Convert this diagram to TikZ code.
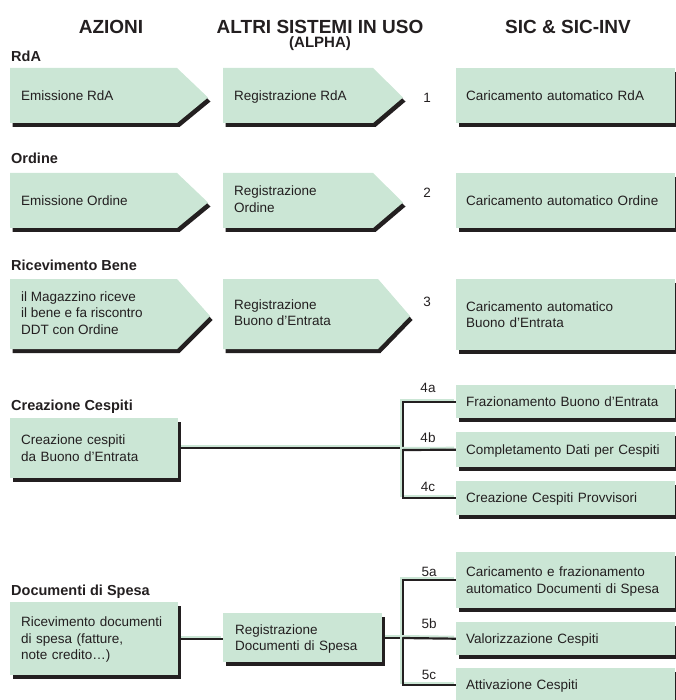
\documentclass[tikz,border=0pt]{standalone}
\usepackage{fontspec}
\setmainfont{Liberation Sans}
\usetikzlibrary{shadows}
\definecolor{mint}{RGB}{203,230,213}
\definecolor{ink}{RGB}{35,31,32}
\newcommand{\vstrut}{\rule[-2.4pt]{0pt}{14.4pt}}
\pgfdeclarelayer{bg}
\pgfsetlayers{bg,main}
\tikzset{
  boxshadow/.style={drop shadow={shadow xshift=2.5pt,shadow yshift=-4pt,fill=ink,opacity=1}},
  txt/.style={font=\fontsize{13.5}{16.5}\selectfont,text=ink,align=left,inner sep=0pt,
    execute at begin node=\vstrut,execute at end node=\vstrut},
  box/.style={txt,fill=mint,boxshadow,anchor=north west,inner ysep=0pt},
  leftbox/.style={box,inner xsep=11pt,text width=146pt},
  sicbox/.style={box,inner xsep=10pt,text width=199pt},
  sec/.style={font=\fontsize{14.5}{17}\selectfont\bfseries,text=ink,anchor=west,inner sep=0pt},
  head/.style={font=\fontsize{19}{22}\selectfont\bfseries,text=ink,inner sep=0pt},
  link/.style={draw=ink,line width=2.2pt,
    preaction={draw=mint,line width=2pt,transform canvas={shift={(-2pt,2pt)}}}}
}
\begin{document}
\begin{tikzpicture}[x=1pt,y=-1pt]
  \useasboundingbox (0,0) rectangle (675,700);
  % column headings
  \node[head] (hAz) at (111,27) {AZIONI};
  \node[head] (hAlt) at (320,27) {ALTRI SISTEMI IN USO};
  \node[head,font=\fontsize{15}{18}\selectfont\bfseries] (hAlpha) at (320,44) {(ALPHA)};
  \node[head] (hSic) at (568,27) {SIC \& SIC-INV};
  % section titles
  \node[sec] (sRda) at (11,56) {RdA};
  \node[sec] (sOrd) at (11,158) {Ordine};
  \node[sec] (sRic) at (11,265) {Ricevimento Bene};
  \node[sec] (sCesp) at (11,407) {Creazione Cespiti};
  \node[sec] (sDoc) at (11,592) {Documenti di Spesa};
  % arrow-shaped steps
  \foreach \x/\y/\w/\h/\d/\n/\t in {10/68/198/55/31/emRda/{Emissione RdA},
      223/68/180/55/30/regRda/{Registrazione RdA},
      10/173/198/55/31/emOrd/{Emissione Ordine},
      223/173/180/55/30/regOrd/{Registrazione\\Ordine},
      10/279/200/70/33/magRic/{il Magazzino riceve\\il bene e fa riscontro\\DDT con Ordine},
      223/279/187/70/32/regBuono/{Registrazione\\Buono d’Entrata}}{
    \fill[mint,boxshadow] (\x,\y) -- (\x+\w-\d,\y) -- (\x+\w,\y+\h/2+2)
      -- (\x+\w-\d,\y+\h) -- (\x,\y+\h) -- cycle;
    \node[txt,anchor=west] (\n) at (\x+11,\y+\h/2) {\t};
  }
  % SIC boxes
  \node[sicbox,minimum height=55pt] (carRda) at (456,68) {Caricamento automatico RdA};
  \node[sicbox,minimum height=55pt] (carOrd) at (456,173) {Caricamento automatico Ordine};
  \node[sicbox,minimum height=71pt] (carBuono) at (456,279) {Caricamento automatico\\Buono d’Entrata};
  \node[sicbox,minimum height=33pt] (frazBuono) at (456,385) {Frazionamento Buono d’Entrata};
  \node[sicbox,minimum height=35pt] (complDati) at (456,432) {Completamento Dati per Cespiti};
  \node[sicbox,minimum height=34pt] (cespProvv) at (456,481) {Creazione Cespiti Provvisori};
  \node[sicbox,minimum height=56pt] (carDoc) at (456,552) {Caricamento e frazionamento\\automatico Documenti di Spesa};
  \node[sicbox,minimum height=33pt] (valCesp) at (456,622) {Valorizzazione Cespiti};
  \node[sicbox,minimum height=34pt] (attCesp) at (456,668) {Attivazione Cespiti};
  % plain boxes
  \node[leftbox,minimum height=60pt] (creaCesp) at (10,418) {Creazione cespiti\\da Buono d’Entrata};
  \node[leftbox,minimum height=73pt] (ricDoc) at (10,602) {Ricevimento documenti\\di spesa (fatture,\\note credito…)};
  \node[box,inner xsep=12pt,text width=135pt,minimum height=49pt] (regDoc) at (223,613) {Registrazione\\Documenti di Spesa};
  % step numbers
  \node[txt] (n1) at (427,98) {1};
  \node[txt] (n2) at (427,193) {2};
  \node[txt] (n3) at (427,302) {3};
  \node[txt] (n4a) at (428,388) {4a};
  \node[txt] (n4b) at (428,438) {4b};
  \node[txt] (n4c) at (428,487) {4c};
  \node[txt] (n5a) at (429,572) {5a};
  \node[txt] (n5b) at (429,624) {5b};
  \node[txt] (n5c) at (429,675) {5c};
  % connectors
  \coordinate (j4) at (403,450);
  \coordinate (j5) at (403,638);
  \begin{pgfonlayer}{bg}
    \draw[link] (creaCesp.east) -- (creaCesp.east -| j4);
    \draw[link] (frazBuono.west) -| (j4) |- (cespProvv.west);
    \draw[link] (j4) -- (complDati.west);
    \draw[link] (ricDoc.east) -- (ricDoc.east -| regDoc.west);
    \draw[link] (regDoc.east) -- (regDoc.east -| j5);
    \draw[link] (carDoc.west) -| (j5) |- (attCesp.west);
    \draw[link] (j5) -- (valCesp.west);
  \end{pgfonlayer}
\end{tikzpicture}
\end{document}
